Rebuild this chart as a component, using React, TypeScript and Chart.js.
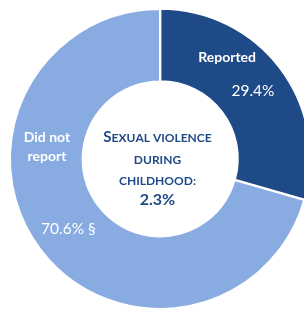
import React, { useEffect, useRef } from "react";
import { Chart, registerables } from "chart.js";
Chart.register(...registerables);

const categories = ["Reported", "Did not report"];
const categoryLines = [["Reported"], ["Did not", "report"]];
const values = [29.4, 70.6];
const valueLabels = ["29.4%", "70.6% §"];
const centerTitle = ["Sexual violence", "during", "childhood:"];
const centerValue = "2.3%";

const COLORS = ["#1F4A88", "#88ABE2"];
const CENTER_COLOR = "#1F4A88";
const FONT = "Lato, 'Open Sans', sans-serif";

// label anchors: f = fraction along the arc's angle, r = fraction across ring width
const namePlace = [
  { f: 0.316, r: 0.61 },
  { f: 0.6695, r: 0.5 },
];
const valuePlace = [
  { f: 0.509, r: 0.52 },
  { f: 0.499, r: 0.52 },
];

function drawSmallCaps(ctx: CanvasRenderingContext2D, text: string, cx: number, y: number, big: number, small: number) {
  const parts: { ch: string; size: number }[] = [];
  for (const c of text) {
    const isUpper = c !== c.toLowerCase();
    parts.push({ ch: c.toUpperCase(), size: isUpper ? big : small });
  }
  let total = 0;
  for (const p of parts) {
    ctx.font = `bold ${p.size}px ${FONT}`;
    total += ctx.measureText(p.ch).width;
  }
  let x = cx - total / 2;
  ctx.textAlign = "left";
  ctx.textBaseline = "alphabetic";
  for (const p of parts) {
    ctx.font = `bold ${p.size}px ${FONT}`;
    ctx.fillText(p.ch, x, y);
    x += ctx.measureText(p.ch).width;
  }
}

const labelPlugin = {
  id: "sliceLabels",
  afterDraw(chart: any) {
    const ctx: CanvasRenderingContext2D = chart.ctx;
    const meta = chart.getDatasetMeta(0);
    ctx.save();
    let cx = 0, cy = 0;
    meta.data.forEach((arc: any, i: number) => {
      const p = arc.getProps(["x", "y", "startAngle", "endAngle", "innerRadius", "outerRadius"], true);
      cx = p.x; cy = p.y;
      const pos = (pl: { f: number; r: number }) => {
        const a = p.startAngle + (p.endAngle - p.startAngle) * pl.f;
        const r = p.innerRadius + (p.outerRadius - p.innerRadius) * pl.r;
        return { x: p.x + Math.cos(a) * r, y: p.y + Math.sin(a) * r };
      };
      ctx.fillStyle = "#FFFFFF";
      ctx.textAlign = "center";
      ctx.textBaseline = "middle";
      const n = pos(namePlace[i]);
      const lines = categoryLines[i];
      const lh = 19;
      ctx.font = `bold 14px ${FONT}`;
      lines.forEach((ln, k) => {
        ctx.fillText(ln, n.x, n.y + (k - (lines.length - 1) / 2) * lh);
      });
      const v = pos(valuePlace[i]);
      ctx.font = `15.5px ${FONT}`;
      ctx.fillText(valueLabels[i], v.x, v.y);
    });
    // center text
    ctx.fillStyle = CENTER_COLOR;
    const tx = cx - 2.5;
    const ys = [cy - 22 + 5, cy + 0 + 5, cy + 21 + 5];
    drawSmallCaps(ctx, centerTitle[0], tx, ys[0], 15, 12);
    drawSmallCaps(ctx, centerTitle[1], tx, ys[1], 15, 12);
    drawSmallCaps(ctx, centerTitle[2], tx, ys[2], 15, 12);
    ctx.font = `bold 16px ${FONT}`;
    ctx.textAlign = "center";
    ctx.textBaseline = "middle";
    ctx.fillText(centerValue, tx, cy + 41);
    ctx.restore();
  },
};

export default function App() {
  const ref = useRef<HTMLCanvasElement>(null);
  useEffect(() => {
    if (!ref.current) return;
    const chart = new Chart(ref.current, {
      type: "doughnut",
      data: {
        labels: categories,
        datasets: [
          {
            data: values,
            backgroundColor: COLORS,
            borderColor: "#FFFFFF",
            borderWidth: 2,
            offset: [2, 0],
          },
        ],
      },
      options: {
        responsive: false,
        animation: false,
        radius: 150,
        cutout: 81,
        layout: { padding: 0 },
        plugins: { legend: { display: false }, tooltip: { enabled: false } },
      } as any,
      plugins: [labelPlugin],
    });
    return () => chart.destroy();
  }, []);
  return (
    <div style={{ position: "absolute", left: 0, top: 0, width: 304, height: 309, overflow: "hidden", background: "#fff" }}>
      <canvas ref={ref} width={320} height={318} style={{ display: "block", width: 320, height: 318 }} />
    </div>
  );
}
